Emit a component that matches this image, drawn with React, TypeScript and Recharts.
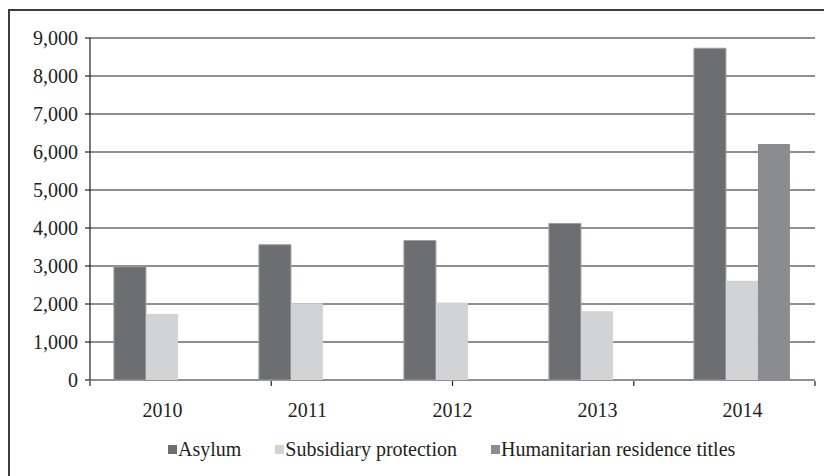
import React from 'react';
import { BarChart, Bar, XAxis, YAxis, CartesianGrid, Legend } from 'recharts';

const years = ['2010', '2011', '2012', '2013', '2014'];
const asylum = [2980, 3560, 3670, 4120, 8730];
const subsidiary = [1740, 2020, 2040, 1810, 2610];
const humanitarian: (number | null)[] = [null, null, null, null, 6210];
const yTicks = [0, 1000, 2000, 3000, 4000, 5000, 6000, 7000, 8000, 9000];
const boundaryTicks = [0, 1, 2, 3, 4, 5];

const seriesNames = ['Asylum', 'Subsidiary protection', 'Humanitarian residence titles'];
const colors = ['#6d6e71', '#d1d3d4', '#8b8c8f'];

const data = years.map((y, i) => ({
  year: y,
  asylum: asylum[i],
  subsidiary: subsidiary[i],
  humanitarian: humanitarian[i],
}));

const FONT = '"Liberation Serif", "DejaVu Serif", serif';
const TEXT = '#231f20';

const fmt = (v: number) => v.toLocaleString('en-US');

const LegendContent = (props: any) => {
  const payload = [...(props.payload || [])].sort(
    (a: any, b: any) => seriesNames.indexOf(a.value) - seriesNames.indexOf(b.value)
  );
  return (
    <div style={{ display: 'flex', alignItems: 'center', fontFamily: FONT, fontSize: 20, color: TEXT, whiteSpace: 'nowrap' }}>
      {payload.map((p: any, i: number) => (
        <div key={i} style={{ display: 'flex', alignItems: 'center', marginRight: 34 }}>
          <span style={{ display: 'inline-block', width: 9, height: 9, background: p.color, marginRight: 1 }} />
          <span>{p.value}</span>
        </div>
      ))}
    </div>
  );
};

export default function App() {
  return (
    <div style={{ position: 'relative', width: 824, height: 468 }}>
      <div
        style={{
          position: 'absolute',
          left: 0,
          top: 1,
          width: 824,
          height: 467,
          borderTop: '2px solid #3d3d3d',
          borderLeft: '2px solid #3d3d3d',
          boxSizing: 'border-box',
        }}
      />
      <div style={{ position: 'absolute', left: 0, top: 0 }}>
        <BarChart
          width={824}
          height={468}
          data={data}
          margin={{ top: 30, right: 17, bottom: 89, left: 10 }}
          barCategoryGap="16.5%"
          barGap={0}
        >
          <CartesianGrid vertical={false} stroke="#231f20" strokeWidth={1.2} />
          <XAxis
            xAxisId="cat"
            dataKey="year"
            type="category"
            height={1}
            axisLine={false}
            tickLine={false}
            tickSize={0}
            tickMargin={23}
            tick={{ fontFamily: FONT, fontSize: 20, fill: TEXT }}
          />
          <XAxis
            xAxisId="grid"
            type="number"
            domain={[0, 5]}
            ticks={boundaryTicks}
            allowDataOverflow
            tickFormatter={() => ''}
            tickSize={5}
            height={6}
            axisLine={false}
            tickLine={{ stroke: '#231f20', strokeWidth: 1.2 }}
          />
          <YAxis
            domain={[0, 9000]}
            ticks={yTicks}
            width={72}
            tickSize={5}
            tickMargin={7}
            tickFormatter={fmt}
            axisLine={{ stroke: '#231f20', strokeWidth: 1.2 }}
            tickLine={{ stroke: '#231f20', strokeWidth: 1.2 }}
            tick={{ fontFamily: FONT, fontSize: 20, fill: TEXT }}
          />
          <Legend
            layout="horizontal"
            verticalAlign="middle"
            align="center"
            content={<LegendContent />}
            wrapperStyle={{ left: 160, top: 430, width: 'auto', height: 'auto' }}
          />
          <Bar xAxisId="cat" dataKey="asylum" name={seriesNames[0]} fill={colors[0]} stroke="#9d9ea1" strokeWidth={1} isAnimationActive={false} />
          <Bar xAxisId="cat" dataKey="subsidiary" name={seriesNames[1]} fill={colors[1]} isAnimationActive={false} />
          <Bar xAxisId="cat" dataKey="humanitarian" name={seriesNames[2]} fill={colors[2]} isAnimationActive={false} />
        </BarChart>
      </div>
    </div>
  );
}
